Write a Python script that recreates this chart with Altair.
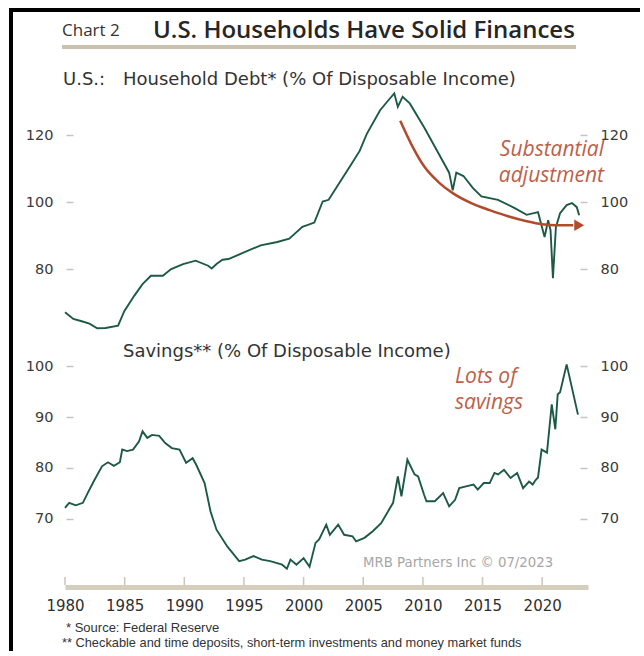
import altair as alt
import pandas as pd

# ---------------- data ----------------
debt_year = [1980.0, 1980.7, 1981.4, 1982.05, 1982.7, 1983.4, 1984.45, 1984.97, 1985.8, 1986.5,
             1987.2, 1988.2, 1988.9, 1989.9, 1990.95, 1992.0, 1992.3, 1992.7, 1993.2, 1993.7,
             1995.1, 1996.4, 1997.8, 1998.8, 1999.9, 2000.9, 2001.6, 2002.1, 2002.9, 2004.0,
             2004.7, 2005.3, 2006.4, 2007.0, 2007.6, 2007.9, 2008.3, 2008.9, 2010.1, 2011.2,
             2012.2, 2012.5, 2012.8, 2013.4, 2014.2, 2014.9, 2016.3, 2017.7, 2018.7, 2019.3,
             2019.65, 2020.2, 2020.5, 2020.7, 2020.9, 2021.15, 2021.5, 2022.05, 2022.5, 2022.9,
             2023.1]
debt_value = [67.1, 65.1, 64.4, 63.7, 62.3, 62.4, 63.1, 67.4, 72.0, 75.5,
              78.0, 78.0, 80.0, 81.5, 82.5, 81.0, 80.2, 81.5, 82.8, 83.0,
              85.1, 87.1, 88.1, 89.1, 92.6, 93.9, 100.2, 100.7, 105.2, 111.3,
              115.3, 120.4, 127.4, 130.0, 132.5, 128.5, 131.5, 129.5, 122.4, 115.3,
              108.8, 103.5, 108.8, 107.8, 104.2, 101.7, 100.7, 98.2, 96.2, 96.7,
              97.0, 89.6, 94.6, 91.6, 77.3, 92.5, 96.7, 99.1, 99.7, 98.5,
              96.1]

sav_year = [1980.0, 1980.35, 1980.9, 1981.5, 1981.9, 1982.4, 1983.1, 1983.6, 1984.1, 1984.6,
            1984.8, 1985.2, 1985.7, 1986.2, 1986.5, 1986.9, 1987.3, 1987.9, 1988.4, 1988.95,
            1989.6, 1990.15, 1990.7, 1991.0, 1991.7, 1992.2, 1992.7, 1993.6, 1994.6, 1995.1,
            1995.8, 1996.5, 1997.2, 1998.2, 1998.6, 1998.9, 1999.4, 2000.0, 2000.5, 2001.0,
            2001.3, 2001.9, 2002.2, 2002.9, 2003.4, 2004.1, 2004.4, 2005.1, 2005.8, 2006.5,
            2007.0, 2007.5, 2007.9, 2008.2, 2008.7, 2009.3, 2009.6, 2010.1, 2010.3, 2011.0,
            2011.7, 2012.2, 2012.7, 2013.05, 2013.7, 2014.25, 2014.6, 2015.1, 2015.6, 2016.0,
            2016.3, 2016.8, 2017.35, 2017.9, 2018.4, 2018.9, 2019.2, 2019.45, 2019.65, 2019.95,
            2020.4, 2020.8, 2021.1, 2021.3, 2021.5, 2022.05, 2023.0]
sav_value = [72.1, 73.1, 72.6, 73.1, 75.0, 77.3, 80.3, 81.1, 80.4, 81.1,
             83.6, 83.3, 83.6, 85.2, 87.2, 85.9, 86.5, 86.3, 84.9, 83.9,
             83.6, 81.0, 81.9, 80.6, 77.0, 71.4, 67.8, 64.5, 61.6, 61.9,
             62.6, 61.9, 61.6, 60.9, 60.1, 61.9, 60.9, 62.2, 60.5, 65.2,
             65.9, 68.8, 66.8, 68.8, 66.8, 66.5, 65.5, 66.2, 67.5, 69.1,
             71.1, 73.1, 78.3, 74.4, 81.6, 78.7, 78.3, 74.7, 73.4, 73.4,
             75.0, 72.4, 73.7, 76.0, 76.4, 76.7, 75.7, 77.0, 77.0, 79.0,
             78.7, 79.6, 78.0, 79.0, 76.0, 77.3, 76.7, 77.6, 78.1, 83.6,
             83.0, 92.5, 87.6, 94.5, 94.9, 100.4, 90.5]

arrow_year = [2008.1, 2009.0, 2010.1, 2011.3, 2012.5, 2014.0, 2015.6, 2017.2, 2018.7, 2020.0, 2021.2, 2022.6]
arrow_value = [124.3, 117.5, 110.7, 106.0, 102.7, 99.8, 97.6, 95.7, 94.3, 93.4, 93.1, 93.1]
arrow_tip_year = [2023.1]
arrow_tip_value = [93.1]

x_ticks = [1980, 1985, 1990, 1995, 2000, 2005, 2010, 2015, 2020]
debt_ticks = [80, 100, 120]
sav_ticks = [70, 80, 90, 100]

title_small = "Chart 2"
title_main = "U.S. Households Have Solid Finances"
sub_prefix = "U.S.:"
sub_debt = "Household Debt* (% Of Disposable Income)"
sub_sav = "Savings** (% Of Disposable Income)"
ann_debt = ["Substantial", "adjustment"]
ann_sav = ["Lots of", "savings"]
credit = "MRB Partners Inc \u00a9 07/2023"
foot1 = "*  Source: Federal Reserve"
foot2 = "** Checkable and time deposits, short-term investments and money market funds"

debt_df = pd.DataFrame({"year": debt_year, "value": debt_value})
sav_df = pd.DataFrame({"year": sav_year, "value": sav_value})
arrow_df = pd.DataFrame({"year": arrow_year, "value": arrow_value})
tip_df = pd.DataFrame({"year": arrow_tip_year, "value": arrow_tip_value})
tick_df = pd.DataFrame({"year": x_ticks})

# ---------------- styles ----------------
W, H = 523, 502
GREEN = "#1d5a44"
RUST = "#b24a2e"
RUST_TXT = "#bd6048"
AX_FONT = "DejaVu Sans"

xscale = alt.Scale(domain=[1980, 2023.84], nice=False, zero=False)
top_scale = alt.Scale(domain=[60, 135], range=[251, 0], nice=False, zero=False)
bot_scale = alt.Scale(domain=[56.5, 106], range=[502, 251], nice=False, zero=False)

x_axis = alt.Axis(orient="bottom", values=x_ticks, format="d", title=None, grid=False,
                  domain=True, domainColor="#d6cebd", domainWidth=5, ticks=False,
                  tickSize=0, labelPadding=11, labelFont=AX_FONT, labelFontSize=15,
                  labelColor="#2e2e2e", labelFlush=False, labelOverlap=False)
xenc = alt.X("year:Q", scale=xscale, axis=x_axis)


def yaxis(orient, values):
    return alt.Axis(orient=orient, values=values, title=None, domain=False, grid=False,
                    ticks=True, tickSize=7, tickColor="#c4c4c4", tickWidth=1.5, offset=-8,
                    labelPadding=13, labelFont=AX_FONT, labelFontSize=14.5,
                    labelColor="#3a3a3a")


debt_left = alt.Chart(debt_df).mark_line(color=GREEN, strokeWidth=1.9).encode(
    x=xenc, y=alt.Y("value:Q", scale=top_scale, axis=yaxis("left", debt_ticks)))
debt_right = alt.Chart(debt_df).mark_line(color=GREEN, strokeWidth=1.9, opacity=0).encode(
    x=xenc, y=alt.Y("value:Q", scale=top_scale, axis=yaxis("right", debt_ticks)))

sav_left = alt.Chart(sav_df).mark_line(color=GREEN, strokeWidth=1.9).encode(
    x=xenc, y=alt.Y("value:Q", scale=bot_scale, axis=yaxis("left", sav_ticks)))
sav_right = alt.Chart(sav_df).mark_line(color=GREEN, strokeWidth=1.9, opacity=0).encode(
    x=xenc, y=alt.Y("value:Q", scale=bot_scale, axis=yaxis("right", sav_ticks)))

x_tick_marks = alt.Chart(tick_df).mark_rule(color="#cdc5b4", strokeWidth=1.5).encode(
    x=xenc, y=alt.value(492), y2=alt.value(500))

arrow = alt.Chart(arrow_df).mark_line(color=RUST, strokeWidth=2.5, interpolate="monotone").encode(
    x=xenc, y=alt.Y("value:Q", scale=top_scale, axis=None))
arrow_head = alt.Chart(tip_df).mark_point(shape="triangle-right", filled=True, color=RUST,
                                           size=130, opacity=1).encode(
    x=xenc, y=alt.Y("value:Q", scale=top_scale, axis=None))


def txt(s, x, y, size, font=AX_FONT, color="#333333", align="left", style="normal",
        baseline="middle", weight="normal"):
    return alt.Chart(pd.DataFrame({"t": [s]})).mark_text(
        align=align, baseline=baseline, font=font, fontSize=size, color=color,
        fontStyle=style, fontWeight=weight).encode(
        text="t:N", x=alt.value(x), y=alt.value(y))


def rule(x1, x2, y1, y2, color, width):
    return alt.Chart(pd.DataFrame({"a": [0]})).mark_rule(color=color, strokeWidth=width).encode(
        x=alt.value(x1), x2=alt.value(x2), y=alt.value(y1), y2=alt.value(y2))


texts = [
    txt(title_small, -3, -54, 17, font="Open Sans", color="#333333"),
    txt(title_main, 88, -54, 24, font="Open Sans", color="#262626", weight=600),
    txt(sub_prefix, -2, -5, 18),
    txt(sub_debt, 58, -5, 18),
    txt(sub_sav, 58, 267, 18),
    txt(ann_debt[0], 539, 65, 21, font="Open Sans", color=RUST_TXT, align="right", style="italic"),
    txt(ann_debt[1], 539, 91, 21, font="Open Sans", color=RUST_TXT, align="right", style="italic"),
    txt(ann_sav[0], 390, 292, 21, font="Open Sans", color=RUST_TXT, style="italic"),
    txt(ann_sav[1], 390, 318, 21, font="Open Sans", color=RUST_TXT, style="italic"),
    txt(credit, 298, 478, 13.3, color="#a6a6a6"),
    txt(foot1, 1, 543, 13, font="Liberation Sans", color="#333333"),
    txt(foot2, -3, 558, 12.8, font="Liberation Sans", color="#333333"),
]

decor = [
    rule(-54, -54, -77, 566, "#000000", 4),
    rule(-56, 575, -75, -75, "#000000", 4),
    rule(-3, 511, -38, -38, "#c8c1b0", 4),
]

chart = alt.layer(
    *decor, debt_left, debt_right, sav_left, sav_right, x_tick_marks, arrow, arrow_head, *texts
).resolve_scale(y="independent").resolve_axis(y="independent").properties(
    width=W, height=H,
    autosize=alt.AutoSizeParams(type="none"),
    padding={"left": 65, "top": 85, "right": 52, "bottom": 64},
    background="white",
).configure_view(stroke=None)

chart.save("out.html", embed_options={"renderer": "svg", "actions": False})
